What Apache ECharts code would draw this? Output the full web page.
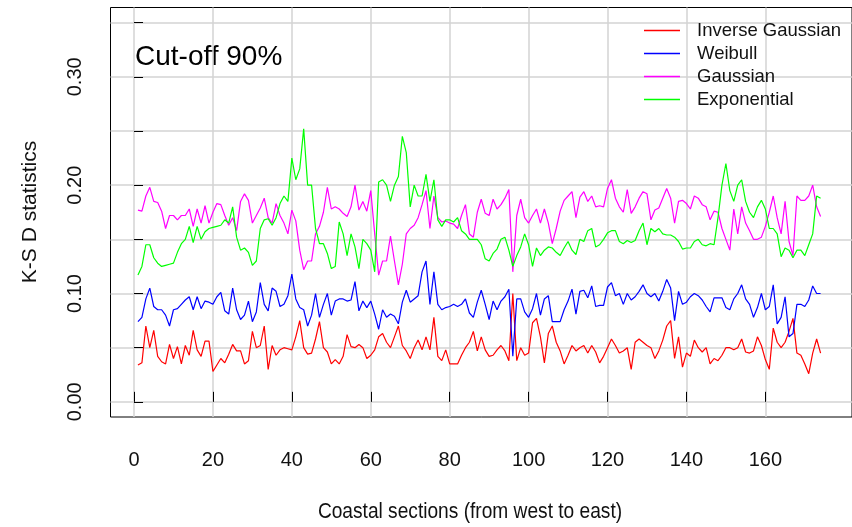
<!DOCTYPE html>
<html>
<head>
<meta charset="utf-8">
<script src="https://cdn.jsdelivr.net/npm/echarts@6/dist/echarts.min.js"></script>
<style>
  html, body { margin: 0; padding: 0; background: #fff; }
  #chart { width: 852px; height: 527px; }
</style>
</head>
<body>
<div id="chart"></div>
<script>
// K-S D statistics per coastal section (1..174)
var invGauss = [
  0.034, 0.036, 0.070, 0.050, 0.066, 0.042, 0.037, 0.035, 0.053, 0.040, 0.051, 0.035, 0.052, 0.043, 0.066, 0.048, 0.042, 0.056, 0.056, 0.028,
  0.034, 0.040, 0.036, 0.044, 0.053, 0.047, 0.047, 0.035, 0.038, 0.065, 0.050, 0.052, 0.070, 0.030, 0.052, 0.043, 0.048, 0.050, 0.049, 0.048,
  0.060, 0.075, 0.050, 0.044, 0.045, 0.058, 0.074, 0.050, 0.046, 0.035, 0.039, 0.035, 0.042, 0.062, 0.051, 0.050, 0.053, 0.050, 0.040, 0.043,
  0.048, 0.060, 0.063, 0.055, 0.050, 0.060, 0.070, 0.052, 0.047, 0.040, 0.050, 0.057, 0.048, 0.060, 0.048, 0.078, 0.042, 0.038, 0.048, 0.035,
  0.035, 0.035, 0.043, 0.050, 0.055, 0.065, 0.047, 0.060, 0.048, 0.042, 0.043, 0.048, 0.052, 0.047, 0.038, 0.100, 0.038, 0.050, 0.043, 0.045,
  0.073, 0.077, 0.060, 0.036, 0.063, 0.070, 0.055, 0.047, 0.035, 0.043, 0.052, 0.047, 0.050, 0.052, 0.045, 0.052, 0.046, 0.036, 0.042, 0.050,
  0.058, 0.052, 0.045, 0.047, 0.050, 0.030, 0.055, 0.058, 0.055, 0.052, 0.050, 0.040, 0.047, 0.057, 0.070, 0.075, 0.040, 0.060, 0.032, 0.045,
  0.042, 0.057, 0.050, 0.046, 0.050, 0.035, 0.040, 0.038, 0.043, 0.050, 0.050, 0.048, 0.050, 0.058, 0.046, 0.045, 0.047, 0.060, 0.052, 0.039,
  0.030, 0.068, 0.055, 0.050, 0.055, 0.065, 0.077, 0.045, 0.043, 0.035, 0.026, 0.045, 0.058, 0.045
];
var weibull = [
  0.074, 0.078, 0.095, 0.105, 0.088, 0.085, 0.085, 0.080, 0.070, 0.085, 0.086, 0.090, 0.094, 0.097, 0.085, 0.097, 0.086, 0.093, 0.092, 0.090,
  0.097, 0.101, 0.084, 0.081, 0.105, 0.085, 0.076, 0.080, 0.093, 0.074, 0.083, 0.110, 0.090, 0.084, 0.105, 0.102, 0.088, 0.090, 0.098, 0.118,
  0.095, 0.087, 0.085, 0.070, 0.080, 0.100, 0.078, 0.090, 0.100, 0.080, 0.093, 0.095, 0.095, 0.093, 0.094, 0.111, 0.084, 0.093, 0.087, 0.093,
  0.081, 0.067, 0.085, 0.078, 0.081, 0.079, 0.072, 0.092, 0.103, 0.092, 0.095, 0.098, 0.120, 0.130, 0.090, 0.120, 0.090, 0.085, 0.087, 0.088,
  0.090, 0.088, 0.090, 0.095, 0.082, 0.078, 0.092, 0.103, 0.090, 0.076, 0.093, 0.085, 0.093, 0.097, 0.104, 0.042, 0.095, 0.095, 0.083, 0.078,
  0.086, 0.100, 0.080, 0.095, 0.098, 0.074, 0.074, 0.074, 0.085, 0.093, 0.104, 0.081, 0.102, 0.103, 0.096, 0.107, 0.088, 0.089, 0.089, 0.106,
  0.110, 0.098, 0.100, 0.090, 0.100, 0.094, 0.097, 0.102, 0.108, 0.100, 0.097, 0.100, 0.093, 0.102, 0.113, 0.105, 0.075, 0.102, 0.090, 0.092,
  0.097, 0.100, 0.098, 0.094, 0.088, 0.083, 0.096, 0.096, 0.096, 0.087, 0.085, 0.095, 0.100, 0.108, 0.095, 0.090, 0.078, 0.087, 0.100, 0.085,
  0.088, 0.108, 0.072, 0.078, 0.097, 0.060, 0.063, 0.090, 0.090, 0.088, 0.094, 0.107, 0.100, 0.100
];
var gaussian = [
  0.177, 0.176, 0.190, 0.198, 0.185, 0.184, 0.176, 0.160, 0.172, 0.172, 0.168, 0.172, 0.172, 0.178, 0.162, 0.178, 0.165, 0.181, 0.165, 0.175,
  0.183, 0.182, 0.172, 0.163, 0.170, 0.158, 0.185, 0.192, 0.186, 0.165, 0.172, 0.179, 0.188, 0.170, 0.165, 0.183, 0.172, 0.165, 0.155, 0.177,
  0.167, 0.140, 0.122, 0.130, 0.130, 0.155, 0.162, 0.175, 0.198, 0.178, 0.180, 0.178, 0.174, 0.171, 0.180, 0.200, 0.177, 0.185, 0.176, 0.195,
  0.155, 0.117, 0.130, 0.130, 0.153, 0.130, 0.108, 0.127, 0.155, 0.160, 0.163, 0.170, 0.182, 0.195, 0.160, 0.190, 0.170, 0.166, 0.167, 0.165,
  0.164, 0.160, 0.172, 0.182, 0.155, 0.152, 0.175, 0.187, 0.174, 0.172, 0.187, 0.178, 0.182, 0.188, 0.196, 0.120, 0.172, 0.187, 0.170, 0.165,
  0.172, 0.178, 0.165, 0.178, 0.165, 0.146, 0.160, 0.176, 0.186, 0.190, 0.194, 0.170, 0.189, 0.194, 0.185, 0.190, 0.180, 0.181, 0.180, 0.197,
  0.205, 0.188, 0.180, 0.175, 0.196, 0.174, 0.180, 0.188, 0.194, 0.192, 0.168, 0.177, 0.179, 0.188, 0.197, 0.188, 0.165, 0.185, 0.186, 0.183,
  0.178, 0.190, 0.188, 0.182, 0.180, 0.168, 0.176, 0.175, 0.160, 0.150, 0.140, 0.178, 0.155, 0.180, 0.165, 0.158, 0.150, 0.150, 0.152, 0.162,
  0.175, 0.190, 0.170, 0.155, 0.185, 0.148, 0.135, 0.190, 0.186, 0.186, 0.190, 0.200, 0.180, 0.171
];
var exponential = [
  0.117, 0.125, 0.145, 0.145, 0.133, 0.128, 0.125, 0.126, 0.127, 0.128, 0.138, 0.146, 0.150, 0.162, 0.147, 0.162, 0.150, 0.157, 0.160, 0.161,
  0.162, 0.163, 0.168, 0.165, 0.180, 0.152, 0.140, 0.142, 0.138, 0.126, 0.130, 0.160, 0.168, 0.169, 0.163, 0.170, 0.183, 0.190, 0.185, 0.225,
  0.205, 0.215, 0.252, 0.200, 0.200, 0.160, 0.146, 0.146, 0.137, 0.123, 0.125, 0.166, 0.155, 0.135, 0.155, 0.143, 0.123, 0.150, 0.146, 0.140,
  0.120, 0.203, 0.205, 0.200, 0.185, 0.200, 0.208, 0.245, 0.230, 0.180, 0.200, 0.190, 0.190, 0.210, 0.185, 0.205, 0.168, 0.162, 0.168, 0.168,
  0.166, 0.170, 0.158, 0.155, 0.150, 0.150, 0.150, 0.145, 0.132, 0.130, 0.137, 0.141, 0.150, 0.152, 0.140, 0.125, 0.135, 0.143, 0.155, 0.145,
  0.125, 0.142, 0.135, 0.140, 0.143, 0.142, 0.138, 0.135, 0.142, 0.148, 0.140, 0.136, 0.150, 0.148, 0.158, 0.160, 0.143, 0.145, 0.150, 0.156,
  0.158, 0.158, 0.148, 0.146, 0.149, 0.147, 0.149, 0.158, 0.165, 0.145, 0.160, 0.157, 0.160, 0.155, 0.154, 0.154, 0.152, 0.148, 0.141, 0.142,
  0.142, 0.148, 0.150, 0.145, 0.144, 0.146, 0.145, 0.170, 0.200, 0.220, 0.195, 0.185, 0.200, 0.205, 0.185, 0.175, 0.170, 0.180, 0.186, 0.178,
  0.160, 0.160, 0.155, 0.134, 0.142, 0.140, 0.133, 0.140, 0.140, 0.135, 0.145, 0.155, 0.190, 0.188
];

var seriesNames = ['Inverse Gaussian', 'Weibull', 'Gaussian', 'Exponential'];
var seriesColors = ['#ff0000', '#0000ff', '#ff00ff', '#00ff00'];
var xTickLabels = [0, 20, 40, 60, 80, 100, 120, 140, 160];
var yTicks = [0, 0.05, 0.10, 0.15, 0.20, 0.25, 0.30, 0.35];
var yTickLabels = [0, 0.10, 0.20, 0.30];

var FONT = '"Liberation Sans", Arial, sans-serif';

function toPairs(arr) {
  var out = [];
  for (var i = 0; i < arr.length; i++) {
    out.push([i + 1, arr[i]]);
  }
  return out;
}

var allData = [invGauss, weibull, gaussian, exponential];
var series = [];
for (var k = 0; k < allData.length; k++) {
  series.push({
    name: seriesNames[k],
    type: 'line',
    data: toPairs(allData[k]),
    symbol: 'none',
    lineStyle: { color: seriesColors[k], width: 1.2 },
    itemStyle: { color: seriesColors[k] },
    animation: false
  });
}

var chart = echarts.init(document.getElementById('chart'), null, { renderer: 'canvas' });

var option = {
  animation: false,
  backgroundColor: '#ffffff',
  grid: {
    left: 110.5, top: 7.5, right: -3.5, bottom: 110,
    show: true, borderColor: '#000', borderWidth: 1,
    containLabel: false
  },
  legend: {
    orient: 'vertical',
    left: 644, top: 21,
    icon: 'rect',
    itemWidth: 36, itemHeight: 1.5, itemGap: 4,
    padding: 0,
    textStyle: { fontFamily: FONT, fontSize: 18.5, color: '#111', padding: [0, 0, 0, 12] },
    data: seriesNames
  },
  xAxis: {
    type: 'value',
    min: -5.96, max: 181.96,
    splitNumber: 9,
    axisLine: { show: false },
    axisTick: { show: true, inside: true, length: 10, customValues: xTickLabels, lineStyle: { color: '#000' } },
    axisLabel: {
      customValues: xTickLabels,
      margin: 33,
      fontFamily: FONT,
      fontSize: 20, color: '#111'
    },
    splitLine: { show: true, lineStyle: { color: '#d3d3d3', width: 1.5 } }
  },
  yAxis: {
    type: 'value',
    min: -0.014, max: 0.364,
    splitNumber: 8,
    axisLine: { show: false },
    axisTick: { show: true, inside: true, length: 9, customValues: yTicks, lineStyle: { color: '#000' } },
    axisLabel: {
      customValues: yTickLabels,
      rotate: 90,
      margin: 25,
      fontFamily: FONT, fontSize: 20, color: '#111',
      formatter: function (v) { return v.toFixed(2); }
    },
    splitLine: { show: true, lineStyle: { color: '#d3d3d3', width: 1.5 } }
  },
  graphic: [
    {
      type: 'text', x: 135, y: 57,
      style: { text: 'Cut-off 90%', font: '28px ' + FONT, fill: '#000', verticalAlign: 'middle' }
    },
    {
      type: 'text', x: 470, y: 512, scaleX: 0.87,
      style: { text: 'Coastal sections (from west to east)', font: '22px ' + FONT, fill: '#111', align: 'center', verticalAlign: 'middle' }
    },
    {
      type: 'text', x: 30, y: 212, rotation: Math.PI / 2,
      style: { text: 'K-S D statistics', font: '21px ' + FONT, fill: '#111', align: 'center', verticalAlign: 'middle' }
    }
  ],
  series: series
};

chart.setOption(option);
</script>
</body>
</html>
